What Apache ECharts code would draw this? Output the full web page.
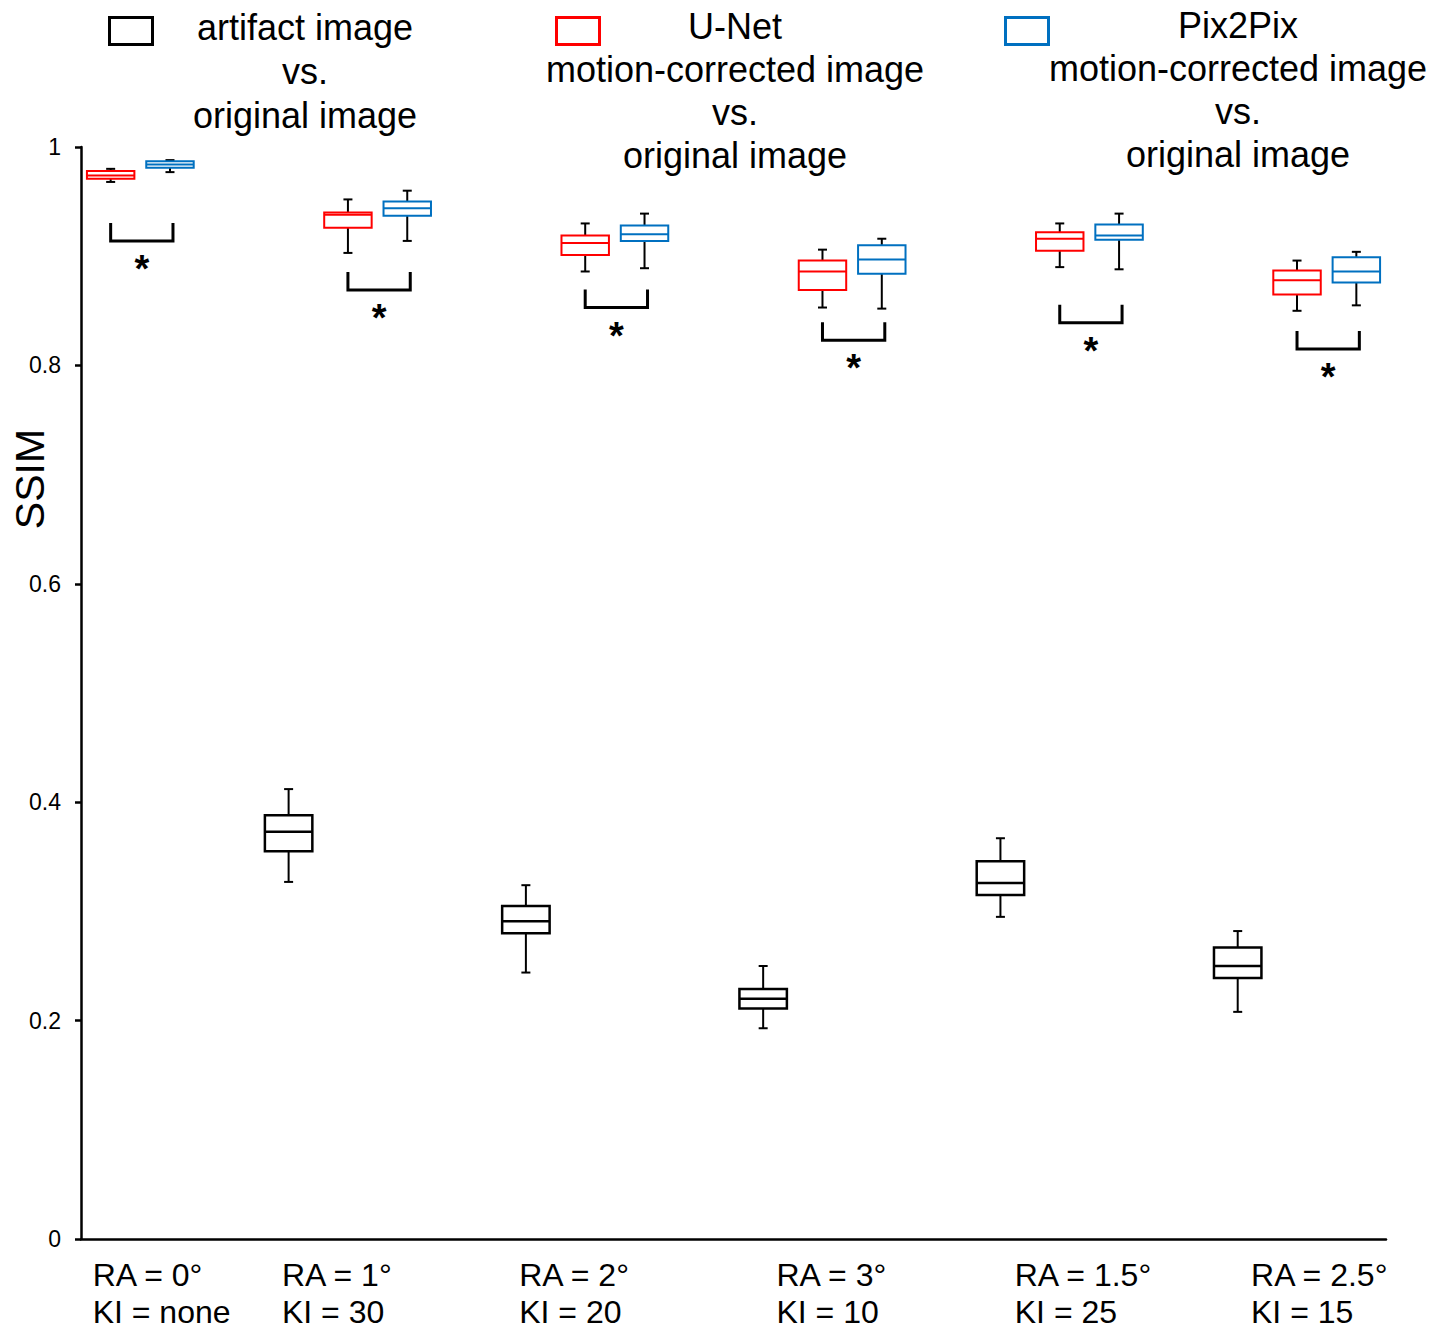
<!DOCTYPE html>
<html>
<head>
<meta charset="utf-8">
<script src="https://cdn.jsdelivr.net/npm/echarts@6/dist/echarts.min.js"></script>
<style>
  html, body { margin: 0; padding: 0; background: #fff; }
  #chart { width: 1436px; height: 1331px; }
</style>
</head>
<body>
<div id="chart"></div>
<script>
// x axis groups
const groupLabels = ['RA = 0°\nKI = none', 'RA = 1°\nKI = 30', 'RA = 2°\nKI = 20',
                     'RA = 3°\nKI = 10', 'RA = 1.5°\nKI = 25', 'RA = 2.5°\nKI = 15'];

// box stats per group: [min, q1, median, q3, max]
const artifactStats = [
  null,
  [0.327, 0.355, 0.373, 0.388, 0.412],
  [0.244, 0.280, 0.291, 0.305, 0.324],
  [0.193, 0.211, 0.220, 0.229, 0.250],
  [0.295, 0.315, 0.326, 0.346, 0.367],
  [0.208, 0.239, 0.250, 0.267, 0.282]
];
const unetStats = [
  [0.968, 0.971, 0.974, 0.978, 0.980],
  [0.903, 0.926, 0.938, 0.940, 0.952],
  [0.886, 0.901, 0.912, 0.919, 0.930],
  [0.853, 0.869, 0.886, 0.896, 0.906],
  [0.890, 0.905, 0.916, 0.922, 0.930],
  [0.850, 0.865, 0.878, 0.887, 0.896]
];
const pix2pixStats = [
  [0.977, 0.981, 0.984, 0.987, 0.988],
  [0.914, 0.937, 0.944, 0.950, 0.960],
  [0.889, 0.914, 0.920, 0.928, 0.939],
  [0.852, 0.884, 0.897, 0.910, 0.916],
  [0.888, 0.915, 0.919, 0.929, 0.939],
  [0.855, 0.876, 0.886, 0.899, 0.904]
];

// significance bracket (U-Net vs Pix2Pix) level and marker per group
const bracketLevels = [0.914, 0.869, 0.853, 0.823, 0.839, 0.815];
const significance = ['*', '*', '*', '*', '*', '*'];

const yTicks = [0, 0.2, 0.4, 0.6, 0.8, 1];

const seriesNames = ['artifact image vs. original image',
                     'U-Net motion-corrected image vs. original image',
                     'Pix2Pix motion-corrected image vs. original image'];
const legendTexts = ['artifact image\nvs.\noriginal image',
                     'U-Net\nmotion-corrected image\nvs.\noriginal image',
                     'Pix2Pix\nmotion-corrected image\nvs.\noriginal image'];
const colors = ['#000000', '#ff0000', '#0070c0'];

const FONT = '"Liberation Sans", Arial, sans-serif';

// each group takes 4 slots on the category axis: artifact, U-Net, Pix2Pix, gap
// (group 1 has no artifact box, so the axis starts at its U-Net slot)
const slotCount = groupLabels.length * 4 - 2;
const slotNames = [];
for (let i = 0; i < slotCount; i++) {
  slotNames.push(i % 4 === 0 ? groupLabels[i / 4] : 'slot' + i);
}
// how far each group label starts left of its U-Net slot (px)
const labelNudge = [18, 66, 66, 46, 45, 46];

function slotData(stats, offset) {
  const out = [];
  stats.forEach((s, g) => {
    const slot = 4 * g + offset;
    if (s && slot >= 0) out.push([slot].concat(s));
  });
  return out;
}

function boxRenderer(color, lineWidth) {
  return function (params, api) {
    const idx = api.value(0);
    const pMin = api.coord([idx, api.value(1)]);
    const x = pMin[0];
    const yMin = pMin[1];
    const yQ1 = api.coord([idx, api.value(2)])[1];
    const yMed = api.coord([idx, api.value(3)])[1];
    const yQ3 = api.coord([idx, api.value(4)])[1];
    const yMax = api.coord([idx, api.value(5)])[1];
    const half = api.size([1, 0])[0] * 0.4;
    const cap = 4.5;
    const whisker = { stroke: '#000', lineWidth: 2 };
    return {
      type: 'group',
      children: [
        { type: 'line', shape: { x1: x, y1: yMax, x2: x, y2: yQ3 }, style: whisker },
        { type: 'line', shape: { x1: x, y1: yQ1, x2: x, y2: yMin }, style: whisker },
        { type: 'line', shape: { x1: x - cap, y1: yMax, x2: x + cap, y2: yMax }, style: whisker },
        { type: 'line', shape: { x1: x - cap, y1: yMin, x2: x + cap, y2: yMin }, style: whisker },
        { type: 'rect', shape: { x: x - half, y: yQ3, width: half * 2, height: yQ1 - yQ3 },
          style: { fill: 'none', stroke: color, lineWidth: lineWidth } },
        { type: 'line', shape: { x1: x - half, y1: yMed, x2: x + half, y2: yMed },
          style: { stroke: color, lineWidth: lineWidth } }
      ]
    };
  };
}

function bracketRenderer(params, api) {
  const lv = api.value(2);
  const a = api.coord([api.value(0), lv]);
  const b = api.coord([api.value(1), lv]);
  const x1 = a[0], x2 = b[0] + 3, y = a[1];
  const arm = 18;
  return {
    type: 'group',
    children: [
      { type: 'polyline', shape: { points: [[x1, y - arm], [x1, y], [x2, y], [x2, y - arm]] },
        style: { fill: 'none', stroke: '#000', lineWidth: 3 } },
      { type: 'text', x: (x1 + x2) / 2, y: y + 28,
        style: { text: significance[params.dataIndex], fontFamily: FONT, fontSize: 38,
                 fontWeight: 'bold', fill: '#000', align: 'center', verticalAlign: 'middle' } }
    ]
  };
}

const rich = {};
labelNudge.forEach((w, g) => {
  rich['g' + g] = { width: w, align: 'left', fontFamily: FONT, fontSize: 32,
                    lineHeight: 37, color: '#000' };
});

const legendX = [305, 735, 1238];
const legendIconX = [107, 554, 1003];
const legendTextY = [5, 5, 4];
const legendLineH = [44, 43, 43];
const graphic = [];
legendTexts.forEach((t, i) => {
  graphic.push({
    type: 'rect', left: legendIconX[i], top: 15,
    shape: { width: 43, height: 27 },
    style: { fill: 'none', stroke: colors[i], lineWidth: 3 }
  });
  graphic.push({
    type: 'text', x: legendX[i], y: legendTextY[i],
    style: { text: t, fontFamily: FONT, fontSize: 36, lineHeight: legendLineH[i],
             align: 'center', verticalAlign: 'top', fill: '#000' }
  });
});
graphic.push({
  type: 'text', x: 30, y: 479, rotation: Math.PI / 2,
  style: { text: 'SSIM', fontFamily: FONT, fontSize: 41, fill: '#000',
           align: 'center', verticalAlign: 'middle' }
});

const chart = echarts.init(document.getElementById('chart'), null, { renderer: 'svg' });
chart.setOption({
  animation: false,
  backgroundColor: '#fff',
  grid: { left: 81, right: 50, top: 147, bottom: 92, containLabel: false },
  xAxis: {
    type: 'category',
    data: slotNames,
    boundaryGap: true,
    axisLine: { lineStyle: { color: '#000', width: 2.5 } },
    axisTick: { show: false },
    splitLine: { show: false },
    axisLabel: {
      interval: 0,
      align: 'right',
      margin: 17,
      formatter: function (value, index) {
        if (index % 4 !== 0) return '';
        const g = index / 4;
        return groupLabels[g].split('\n').map(l => '{g' + g + '|' + l + '}').join('\n');
      },
      rich: rich
    }
  },
  yAxis: {
    type: 'value',
    min: yTicks[0],
    max: yTicks[yTicks.length - 1],
    interval: 0.2,
    axisLine: { show: true, lineStyle: { color: '#000', width: 2.5 } },
    axisTick: { show: true, length: 6, lineStyle: { color: '#000', width: 2.5 } },
    splitLine: { show: false },
    axisLabel: { margin: 20, fontFamily: FONT, fontSize: 23, color: '#000' }
  },
  graphic: graphic,
  series: [
    { name: seriesNames[0], type: 'custom', renderItem: boxRenderer(colors[0], 2.5),
      encode: { x: 0, y: [1, 2, 3, 4, 5] }, data: slotData(artifactStats, -1) },
    { name: seriesNames[1], type: 'custom', renderItem: boxRenderer(colors[1], 2),
      encode: { x: 0, y: [1, 2, 3, 4, 5] }, data: slotData(unetStats, 0) },
    { name: seriesNames[2], type: 'custom', renderItem: boxRenderer(colors[2], 2),
      encode: { x: 0, y: [1, 2, 3, 4, 5] }, data: slotData(pix2pixStats, 1) },
    { name: 'significance', type: 'custom', renderItem: bracketRenderer,
      encode: { x: [0, 1], y: 2 },
      data: bracketLevels.map((lv, g) => [4 * g, 4 * g + 1, lv]) }
  ]
});
</script>
</body>
</html>
